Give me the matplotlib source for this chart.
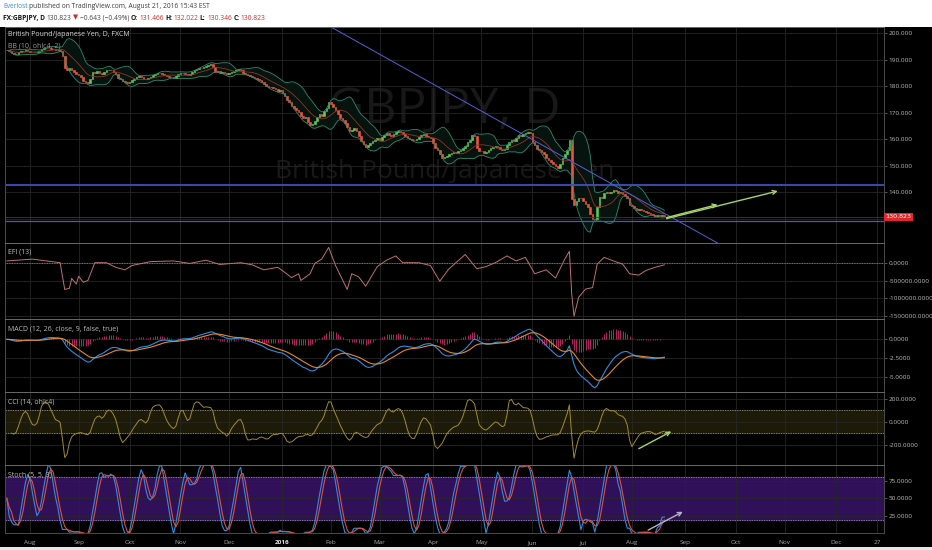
import numpy as np
import pandas as pd
import matplotlib
matplotlib.use("Agg")
import matplotlib.pyplot as plt
from matplotlib.patches import Rectangle
from matplotlib.ticker import FormatStrFormatter

plt.rcParams['axes.unicode_minus'] = False
plt.rcParams['font.family'] = ['Open Sans', 'DejaVu Sans']

# daily closes GBPJPY (FXCM), one row per week, Jul 20 2015 -> Aug 19 2016
closes = [
    193.6, 193.2, 192.6, 192.1, 192.3,
    192.8, 193.2, 193.5, 193.7, 193.3,
    193.0, 192.8, 192.9, 193.0, 193.5,
    194.0, 194.3, 194.6, 194.5, 194.2,
    194.0, 193.6, 193.9, 193.4, 191.5,
    187.0, 186.0, 186.8, 186.2, 185.6,
    184.8, 184.3, 183.5, 182.0, 181.5,
    181.1, 182.8, 185.5, 185.0, 185.8,
    185.0, 184.6, 185.4, 186.0, 186.3,
    186.2, 185.4, 184.5, 183.1, 182.6,
    182.2, 181.8, 181.4, 181.7, 182.3,
    182.9, 183.5, 183.9, 183.4, 182.9,
    182.6, 183.1, 183.7, 184.3, 184.6,
    185.0, 185.2, 184.8, 184.2, 183.9,
    183.6, 183.4, 183.2, 183.9, 184.7,
    185.2, 185.0, 184.6, 184.3, 184.8,
    185.4, 186.1, 186.6, 187.0, 186.8,
    187.3, 187.8, 188.0, 188.5, 187.4,
    185.5, 185.8, 185.2, 185.6, 185.0,
    184.6, 185.1, 185.6, 185.9, 186.2,
    186.4, 186.0, 185.2, 184.6, 184.2,
    184.0, 183.6, 183.1, 182.7, 182.4,
    181.8, 180.9, 180.0, 179.6, 179.9,
    179.3, 179.0, 178.4, 178.6, 177.6,
    176.5, 174.8, 174.0, 172.5, 171.9,
    171.1, 170.2, 169.0, 167.9, 168.3,
    166.5, 165.4, 165.9, 167.0, 168.5,
    169.5, 169.0, 170.8, 172.0, 174.2,
    173.5, 172.4, 171.1, 169.5, 168.0,
    167.3, 166.0, 164.8, 163.0, 163.5,
    164.2, 163.0, 161.2, 159.5, 158.4,
    157.2, 157.8, 158.6, 159.3, 159.8,
    160.4, 159.8, 160.9, 161.5, 162.3,
    161.8, 161.3, 161.9, 162.7, 163.1,
    162.8, 162.0, 161.2, 160.4, 160.0,
    159.8, 159.6, 160.2, 161.0, 161.6,
    161.9, 161.4, 161.0, 160.4, 158.8,
    156.9, 156.0, 154.5, 152.8, 153.5,
    153.9, 154.4, 154.7, 155.2, 154.8,
    155.5, 156.0, 156.6, 157.5, 159.0,
    159.8, 161.6, 161.2, 156.6, 155.8,
    155.6, 155.0, 155.3, 156.0, 156.6,
    157.2, 157.6, 157.0, 156.4, 156.0,
    156.5, 157.8, 159.1, 159.6, 159.2,
    160.4, 161.6, 161.2, 161.9, 162.4,
    162.9, 162.3, 159.1, 157.8, 156.4,
    156.0, 155.2, 154.3, 153.1, 152.2,
    151.5, 150.6, 149.8, 149.1, 150.6,
    152.8, 154.5, 156.0, 159.8, 137.5,
    135.2, 136.8, 137.9, 137.7, 136.9,
    135.5, 134.3, 132.0, 130.0, 129.8,
    134.5, 138.3, 138.0, 139.6, 140.2,
    139.8, 140.3, 140.9, 140.4, 139.6,
    140.1, 139.5, 138.6, 137.7, 135.2,
    134.8, 134.0, 133.5, 133.9, 133.2,
    133.0, 132.7, 132.4, 131.9, 131.4,
    130.8, 131.6, 131.0, 131.466, 130.823,
]
first_day = "2015-07-20"
last_axis_day = "2016-12-30"

# EFI (13) (bar number, value)
efi_bars = [0, 11, 23, 25, 27, 28, 30, 31, 33, 35, 38, 43, 47, 51, 54, 62, 72, 79,
            86, 92, 101, 106, 111, 117, 119, 123, 126, 127, 131, 133, 136, 139, 142,
            147, 149, 152, 155, 160, 164, 168, 171, 178, 183, 187, 191, 198, 203, 207,
            211, 216, 220, 224, 228, 233, 237, 241, 243, 244, 245, 247, 250, 253, 255,
            258, 262, 266, 269, 273, 276, 280, 284]
efi_vals = [50e3, 100e3, 0, -750e3, -720e3, -440e3, -600e3, -380e3, -550e3, -500e3, 0, 0,
            -130e3, -200e3, -80e3, 30e3, 50e3, -20e3, 70e3, -50e3, 0, -60e3, -200e3,
            -130e3, -220e3, -420e3, -310e3, -500e3, -310e3, -20e3, 100e3, 430e3, -80e3,
            -750e3, -310e3, -400e3, -660e3, -110e3, 70e3, 190e3, 0, 0, -80e3, -520e3,
            -170e3, 230e3, -170e3, -110e3, 0, 190e3, 50e3, 150e3, -310e3, -200e3, -430e3,
            100e3, 320e3, -880e3, -1500e3, -970e3, -740e3, -700e3, -40e3, 150e3, 50e3,
            -40e3, -310e3, -350e3, -220e3, -130e3, -60e3]

hline_upper = 142.75
hline_lower = 129.3
last_price = 130.823
trend_dates = ["2016-02-01", "2016-09-23"]
trend_prices = [202.4, 119.9]
main_arrows = [("2016-08-22", 130.5, "2016-09-21", 135.4),
               ("2016-08-22", 130.1, "2016-10-27", 140.5)]
cci_arrow = ("2016-08-04", -236, "2016-08-24", -85)
stoch_arrow = ("2016-08-10", 5, "2016-08-31", 31)

W, H = 932, 550
PX = 2.315  # pixels per bar

days = pd.bdate_range(first_day, last_axis_day)
def bar(d):
    return days.get_loc(pd.Timestamp(d))

n = len(closes)
idx = np.arange(n)
c = pd.Series(closes)
o = c.shift(1).fillna(c.iloc[0])
hi = np.maximum(o, c)
lo = np.minimum(o, c)
src4 = (o + hi + lo + c) / 4

bb_mid = src4.rolling(10, min_periods=2).mean()
bb_sd = src4.rolling(10, min_periods=2).std(ddof=0)
bb_up = bb_mid + 2 * bb_sd
bb_dn = bb_mid - 2 * bb_sd

macd = c.ewm(span=12, adjust=False).mean() - c.ewm(span=26, adjust=False).mean()
signal = macd.ewm(span=9, adjust=False).mean()
hist = macd - signal

sma = src4.rolling(14, min_periods=3).mean()
mdev = src4.rolling(14, min_periods=3).apply(lambda v: np.mean(np.abs(v - v.mean())), raw=True)
cci = (src4 - sma) / (0.015 * mdev)

ll = lo.rolling(5, min_periods=1).min()
hh = hi.rolling(5, min_periods=1).max()
kraw = (100 * (c - ll) / (hh - ll)).fillna(50)
stk = kraw.rolling(5, min_periods=1).mean()
std_ = stk.rolling(3, min_periods=1).mean()

fig = plt.figure(figsize=(W / 100, H / 100), dpi=100)
fig.patch.set_facecolor('black')
fig.patches.append(Rectangle((0, 1 - 27 / H), 1, 27 / H, transform=fig.transFigure,
                             facecolor='white', edgecolor='none', zorder=0))
fig.patches.append(Rectangle((0, 0), 1, 3 / H, transform=fig.transFigure,
                             facecolor='#e6e6e6', edgecolor='none', zorder=0))

month_pos, month_lab = [], []
seen = set()
for i, d in enumerate(days):
    key = (d.year, d.month)
    if key in seen or d < pd.Timestamp("2015-08-01"):
        seen.add(key)
        continue
    seen.add(key)
    month_pos.append(i)
    month_lab.append(str(d.year) if d.month == 1 else d.strftime("%b"))
month_pos.append(bar("2016-12-27"))
month_lab.append("27")

grid_c = '#262626'
x0 = -0.8
x1 = x0 + 879 / PX

def panel(top, bottom, ylim, ticks, fmt):
    ax = fig.add_axes([5 / W, 1 - bottom / H, 879 / W, (bottom - top) / H])
    ax.set_facecolor('black')
    ax.set_xlim(x0, x1)
    ax.set_ylim(*ylim)
    ax.yaxis.tick_right()
    ax.set_yticks(ticks)
    ax.yaxis.set_major_formatter(FormatStrFormatter(fmt))
    ax.tick_params(axis='y', length=2, width=0.5, color='#777', labelsize=4.6,
                   labelcolor='#bdbdbd', pad=1.5)
    ax.set_xticks(month_pos)
    ax.tick_params(axis='x', length=0, labelbottom=False)
    ax.grid(True, color=grid_c, lw=0.6)
    ax.set_axisbelow(True)
    for s in ax.spines.values():
        s.set_color('#4a4a4a')
        s.set_linewidth(0.7)
    ax.spines['top'].set_color('#6a6a6a')
    return ax

# main price panel
price_ticks = list(range(130, 201, 10))
ax = panel(27, 243, (120.9, 202.4), price_ticks, '%.3f')
# 130 is hidden behind the last price tag
ax.set_yticklabels(['' if t == 130 else '%.3f' % t for t in price_ticks])
ax.text(0.5, 0.616, "GBPJPY, D", transform=ax.transAxes, ha='center', va='center',
        fontsize=36, color='#181818', zorder=0)
ax.text(0.5, 0.33, "British Pound/Japanese Yen", transform=ax.transAxes, ha='center',
        va='center', fontsize=19, color='#181818', zorder=0)

ax.fill_between(idx, bb_dn, bb_up, color='#07130f', lw=0)
ax.plot(idx, bb_up, color='#2f8a70', lw=0.6)
ax.plot(idx, bb_dn, color='#2f8a70', lw=0.6)
ax.plot(idx, bb_mid, color='#8c3626', lw=0.6)

col = np.where(c >= o, '#5cc95a', '#e8573c')
ax.bar(idx, np.abs(c - o), bottom=lo, width=0.7, color=col, edgecolor=col, linewidth=0.45)

ax.axhline(hline_upper, color='#3f4fbf', lw=1.3)
ax.axhline(hline_lower, color='#4757c4', lw=0.9)
ax.axhline(last_price, color='#6e2424', lw=0.6)
ax.plot([bar(d) for d in trend_dates], trend_prices, color='#5a5ed6', lw=0.7)
for d0, p0, d1, p1 in main_arrows:
    ax.annotate("", xy=(bar(d1), p1), xytext=(bar(d0), p0),
                arrowprops=dict(arrowstyle='->', color='#a8d46a', lw=1.0,
                                mutation_scale=7, shrinkA=0, shrinkB=0))

# EFI
ax_e = panel(243, 319, (-1581e3, 553e3), [0, -500000, -1000000, -1500000], '%.4f')
ax_e.axhline(0, color='#8a8a8a', lw=0.6, ls=(0, (1, 1)))
ax_e.plot(efi_bars, efi_vals, color='#c07272', lw=0.7)

# MACD
ax_m = panel(319, 392, (-7.0, 2.7), [0, -2.5, -5], '%.4f')
ax_m.vlines(idx, 0, hist, color='#b3285e', lw=0.7)
ax_m.plot(idx, macd, color='#2f8de0', lw=0.8)
ax_m.plot(idx, signal, color='#e08a2c', lw=0.8)

# CCI
ax_c = panel(392, 465, (-379, 260), [200, 0, -200], '%.4f')
ax_c.axhspan(-100, 100, color='#1d1a08', zorder=0.5)
for lvl in (100, -100):
    ax_c.axhline(lvl, color='#a0a0a0', lw=0.5, ls=(0, (2, 1.5)))
ax_c.plot(idx, cci, color='#a38c2c', lw=0.7)
d0, v0, d1, v1 = cci_arrow
ax_c.annotate("", xy=(bar(d1), v1), xytext=(bar(d0), v0),
              arrowprops=dict(arrowstyle='->', color='#a8d46a', lw=1.0,
                              mutation_scale=7, shrinkA=0, shrinkB=0))

# Stoch
ax_s = panel(465, 533, (0.9, 97.2), [75, 50, 25], '%.4f')
ax_s.axhspan(20, 80, color='#31105a', zorder=0.5)
for lvl in (80, 20):
    ax_s.axhline(lvl, color='#a0a0a0', lw=0.5, ls=(0, (2, 1.5)))
ax_s.plot(idx, stk, color='#2f8de0', lw=0.8)
ax_s.plot(idx, std_, color='#e0503a', lw=0.8)
d0, v0, d1, v1 = stoch_arrow
ax_s.annotate("", xy=(bar(d1), v1), xytext=(bar(d0), v0),
              arrowprops=dict(arrowstyle='->', color='#b9aed2', lw=1.0,
                              mutation_scale=7, shrinkA=0, shrinkB=0))
ax_s.tick_params(axis='x', labelbottom=True, labelsize=4.6, labelcolor='#a8a8a8', pad=5)
ax_s.set_xticklabels(month_lab)
for t in ax_s.get_xticklabels():
    if t.get_text() == "2016":
        t.set_fontweight('bold')
        t.set_color('#e0e0e0')

# panel titles
def ftxt(px, py, s, **kw):
    return fig.text(px / W, 1 - py / H, s, va='center', ha='left', **kw)

ftxt(8, 35, "British Pound/Japanese Yen, D, FXCM", fontsize=5, color='#d6d6d6')
ftxt(8, 46, "BB (10, ohlc4, 2)", fontsize=5, color='#9a9a9a')
ftxt(8, 252, "EFI (13)", fontsize=5, color='#bdbdbd')
ftxt(8, 329, "MACD (12, 26, close, 9, false, true)", fontsize=5, color='#bdbdbd')
ftxt(8, 402, "CCI (14, ohlc4)", fontsize=5, color='#bdbdbd')
ftxt(8, 475, "Stoch (5, 5, 3)", fontsize=5, color='#bdbdbd')

# last price tag on the axis
ftxt(885.5, 216.8, "%.3f" % last_price, fontsize=4.6, color='white',
     family=['DejaVu Sans'],
     bbox=dict(boxstyle='square,pad=0.25', facecolor='#e3262b', edgecolor='none'))

# header lines
r = fig.canvas.get_renderer()
def run(px, py, pieces, size):
    x = px
    for s, colr, wt in pieces:
        t = ftxt(x, py, s, fontsize=size, color=colr, fontweight=wt)
        x += t.get_window_extent(renderer=r).width + 1.5

run(3, 7, [("Everlost", '#2f8fdc', 'normal'),
           ("published on TradingView.com, August 21, 2016 15:43 EST", '#3a3a3a', 'normal')], 4.8)
red = '#d42a2a'
run(3, 18, [("FX:GBPJPY, D", '#111111', 'bold'), ("130.823", '#444444', 'normal'),
            ("\u25BC", red, 'normal'), ("\u22120.643 (\u22120.49%)", '#444444', 'normal'),
            ("O:", '#111111', 'bold'), ("131.466", red, 'normal'),
            ("H:", '#111111', 'bold'), ("132.022", red, 'normal'),
            ("L:", '#111111', 'bold'), ("130.346", red, 'normal'),
            ("C:", '#111111', 'bold'), ("130.823", red, 'normal')], 4.8)

fig.savefig("out.png", dpi=100, facecolor=fig.get_facecolor())
